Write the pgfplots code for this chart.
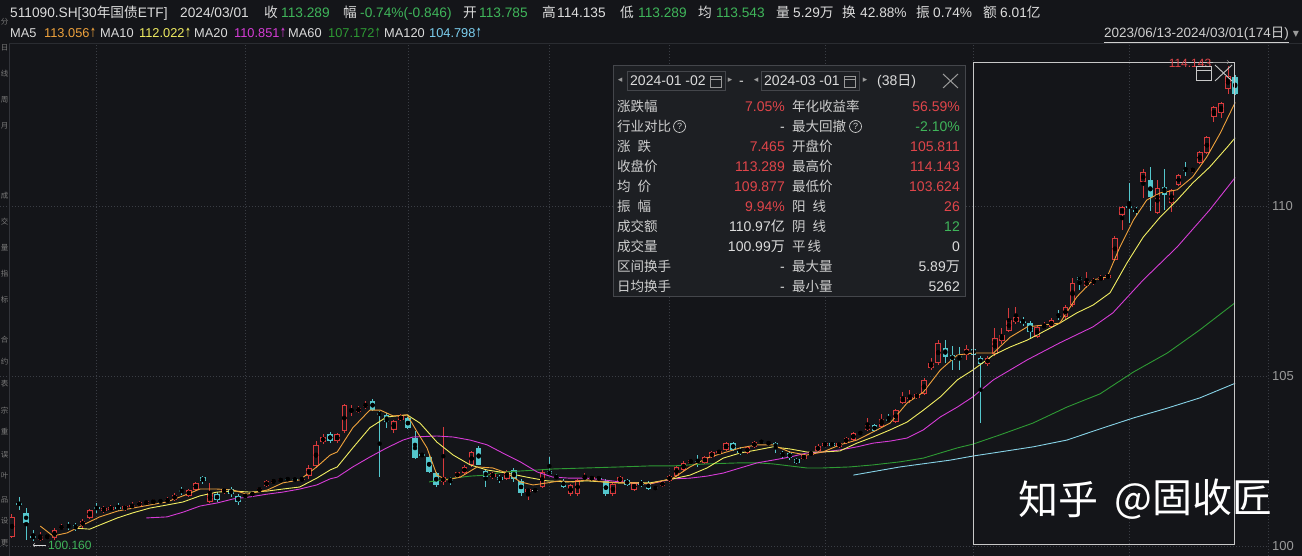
\documentclass[border=0pt]{standalone}
\usepackage{graphicx}
\usepackage{pgfplots}
\pgfplotsset{compat=1.18}
\usepackage{pgfplotstable}
\usepackage{fontspec}
\setmainfont{Liberation Sans}
\newfontfamily\cjk{Noto Sans CJK SC}
\newfontfamily\sym{DejaVu Sans}
\newcommand\fs[1]{\fontsize{#1}{#1}\selectfont}
\newcommand\upar{\hspace{0.5bp}\scalebox{0.55}[1]{\sym ↑}}

\definecolor{bg}{HTML}{141519}
\definecolor{gridc}{HTML}{3A3D44}
\definecolor{sepc}{HTML}{2A2C31}
\definecolor{sepv}{HTML}{32343A}
\definecolor{upc}{HTML}{D83A3C}
\definecolor{dnc}{HTML}{54C6CC}
\definecolor{flc}{HTML}{F0F0F0}
\definecolor{mafive}{HTML}{EFA23C}
\definecolor{maten}{HTML}{F2EE62}
\definecolor{matwenty}{HTML}{D63CD6}
\definecolor{masixty}{HTML}{2E9A34}
\definecolor{maonetwenty}{HTML}{86D2E6}
\definecolor{maonetwentyt}{HTML}{7CCFEF}
\definecolor{txtw}{HTML}{DCDCDC}
\definecolor{txtg}{HTML}{9A9A9A}
\definecolor{stripc}{HTML}{7A7A7A}
\definecolor{labc}{HTML}{CFCFCF}
\definecolor{grn}{HTML}{3FB55A}
\definecolor{redt}{HTML}{E0454A}
\definecolor{boxbg}{HTML}{1D1F23}
\definecolor{boxln}{HTML}{44464B}
\definecolor{selc}{HTML}{C8C8C8}

\pgfplotstableread{
i o h l c
0 100.29 100.95 100.25 100.88
4 100.20 100.42 100.17 100.30
5 100.25 100.38 100.22 100.31
6 100.25 100.55 100.20 100.49
7 100.52 100.65 100.48 100.60
10 100.62 100.80 100.55 100.75
11 100.84 101.10 100.80 101.07
13 101.05 101.20 101.00 101.12
14 101.08 101.22 101.03 101.15
16 101.10 101.22 101.05 101.18
17 101.15 101.30 101.10 101.22
18 101.20 101.35 101.15 101.30
19 101.25 101.38 101.20 101.33
20 101.28 101.40 101.25 101.34
22 101.30 101.45 101.27 101.40
23 101.37 101.56 101.33 101.52
25 101.49 101.70 101.45 101.66
26 101.66 101.90 101.62 101.87
28 101.31 101.87 101.28 101.57
30 101.60 101.72 101.55 101.69
33 101.45 101.56 101.42 101.52
34 101.50 101.62 101.47 101.58
35 101.62 101.76 101.60 101.72
36 101.78 101.95 101.75 101.92
37 101.87 102.00 101.85 101.95
38 101.92 102.02 101.90 101.98
41 101.95 102.04 101.92 102.00
42 102.07 102.40 102.00 102.31
43 102.37 103.10 102.30 102.99
44 103.06 103.30 103.00 103.23
46 103.10 103.33 103.05 103.31
47 103.40 104.20 103.35 104.16
48 103.98 104.15 103.85 104.03
49 103.96 104.13 103.93 104.07
50 104.10 104.27 104.05 104.20
54 103.43 103.72 103.35 103.69
55 103.72 103.90 103.68 103.84
61 101.90 103.51 101.80 102.04
63 102.04 102.20 102.00 102.19
64 102.16 102.40 102.10 102.34
65 102.40 102.80 102.35 102.78
68 102.05 102.18 102.00 102.15
70 102.00 102.26 101.97 102.22
73 101.60 101.70 101.37 101.68
75 101.75 102.25 101.72 102.20
79 101.54 101.85 101.50 101.81
80 101.54 102.00 101.50 101.96
81 102.00 102.15 101.95 102.06
82 101.98 102.08 101.95 102.04
85 101.54 101.88 101.50 101.84
86 101.90 102.08 101.88 102.04
88 101.66 101.90 101.62 101.87
92 101.78 101.93 101.75 101.90
93 101.93 102.10 101.90 102.08
94 102.07 102.38 102.05 102.35
95 102.25 102.50 102.20 102.46
96 102.46 102.57 102.43 102.54
98 102.46 102.66 102.43 102.63
99 102.63 102.80 102.60 102.77
100 102.75 102.85 102.72 102.81
101 102.84 103.07 102.80 103.04
104 102.75 102.96 102.72 102.93
105 102.93 103.10 102.90 103.07
107 103.01 103.10 102.98 103.07
112 102.57 102.72 102.54 102.69
113 102.69 102.82 102.66 102.78
114 102.81 103.00 102.78 102.96
115 102.96 103.08 102.93 103.04
117 102.94 103.08 102.91 103.05
118 103.05 103.22 103.02 103.19
119 103.13 103.37 103.10 103.34
121 103.43 103.78 103.40 103.57
123 103.51 103.90 103.48 103.75
125 103.66 104.04 103.63 104.01
126 104.22 104.54 104.18 104.40
127 104.35 104.60 104.22 104.40
128 104.37 104.52 104.34 104.49
129 104.49 104.95 104.46 104.90
130 105.25 105.55 105.20 105.40
131 105.40 106.07 105.35 105.99
135 105.63 105.93 105.49 105.82
138 105.37 105.60 105.30 105.55
139 105.66 106.43 105.60 106.13
140 106.04 106.43 105.95 106.22
141 106.34 107.01 106.30 106.66
142 106.60 107.04 106.55 106.75
145 106.16 106.50 106.12 106.45
146 106.45 106.60 106.40 106.50
147 106.45 106.72 106.42 106.66
149 106.75 107.10 106.70 107.04
150 107.10 107.90 107.05 107.75
152 107.66 108.07 107.60 107.81
153 107.75 107.90 107.70 107.84
154 107.84 107.98 107.80 107.93
155 107.90 108.03 107.86 107.99
156 108.43 109.12 108.40 109.07
157 109.75 110.01 109.31 109.99
160 110.72 111.10 110.25 111.01
162 109.81 110.78 109.78 110.54
164 110.10 110.52 109.84 110.48
165 110.63 110.96 110.60 110.93
167 111.05 111.14 111.00 111.10
168 111.28 111.63 111.24 111.60
169 111.57 112.07 111.53 112.04
170 112.63 112.96 112.49 112.93
171 112.75 113.07 112.60 113.04
172 113.45 114.14 113.30 113.85
}\upt

\pgfplotstableread{
i o h l c
1 101.27 101.45 101.07 101.23
2 100.99 101.13 100.19 100.70
3 100.30 100.49 100.16 100.25
8 100.62 100.72 100.48 100.58
9 100.63 100.68 100.45 100.55
12 101.15 101.27 101.00 101.11
15 101.15 101.28 101.05 101.12
21 101.34 101.40 101.27 101.30
24 101.65 101.75 101.52 101.61
27 102.04 102.08 101.85 101.93
29 101.54 101.60 101.30 101.37
31 101.69 101.75 101.45 101.55
32 101.50 101.55 101.22 101.30
39 102.00 102.04 101.93 101.96
40 102.00 102.03 101.90 101.95
45 103.31 103.36 103.05 103.10
51 104.28 104.35 103.98 104.02
52 103.93 104.00 102.05 103.87
53 103.87 103.93 103.50 103.66
56 103.78 103.80 103.45 103.49
57 103.19 103.40 102.58 102.60
58 102.72 102.75 102.62 102.68
59 102.63 102.70 102.15 102.19
60 102.16 102.20 101.75 101.81
62 101.98 102.05 101.80 101.95
66 102.90 102.95 102.40 102.40
67 102.22 102.25 101.75 102.04
69 102.04 102.10 101.88 101.95
71 102.26 102.30 101.90 102.00
72 101.94 102.00 101.50 101.57
76 102.22 102.63 102.10 102.12
77 102.06 102.12 101.98 102.02
78 101.93 101.98 101.72 101.75
83 102.02 102.08 101.95 101.99
84 101.93 101.98 101.48 101.54
87 101.96 102.00 101.78 101.81
89 101.90 101.95 101.75 101.80
90 101.87 101.92 101.65 101.70
97 102.53 102.70 102.34 102.49
102 103.04 103.07 102.82 102.84
103 102.81 102.92 102.70 102.77
106 103.09 103.12 103.04 103.07
108 103.05 103.08 102.75 102.90
109 102.75 102.80 102.60 102.68
110 102.76 102.80 102.55 102.60
111 102.57 102.60 102.43 102.46
116 103.04 103.07 102.94 102.97
120 103.35 103.40 103.28 103.31
122 103.57 103.60 103.37 103.40
124 103.75 103.90 103.66 103.70
132 105.84 106.07 105.40 105.57
133 105.63 105.90 105.19 105.49
134 105.59 105.87 105.19 105.55
136 105.81 105.90 105.58 105.63
137 105.55 105.60 103.62 105.37
143 106.63 106.75 106.50 106.60
144 106.57 106.62 106.13 106.31
148 106.80 106.95 106.65 106.76
151 107.93 107.97 107.54 107.84
158 110.02 110.69 109.51 109.97
159 109.90 110.00 109.75 109.86
161 110.78 111.15 109.87 110.28
163 110.57 111.10 109.90 110.34
166 111.10 111.30 110.90 111.05
173 113.80 113.87 113.29 113.30
}\dnt

\pgfplotstableread{
i o h l c
74 101.66 101.70 101.60 101.66
91 101.72 101.78 101.66 101.72
}\flt

\pgfplotsset{
  wick/.style={only marks, mark=none,
    error bars/y dir=both, error bars/y explicit, error bars/error mark=none,
    error bars/error bar style={draw=#1, line width=1bp, solid}},
  body/.style={only marks, mark=none,
    error bars/y dir=both, error bars/y explicit, error bars/error mark=none,
    error bars/error bar style={draw=#1, line width=5.5bp, solid}},
  hollow/.style={only marks, mark=none,
    error bars/y dir=both, error bars/y explicit, error bars/error mark=none,
    error bars/error bar style={draw=bg, line width=3.5bp, solid}},
}

\begin{document}
\begin{tikzpicture}[x=1bp,y=1bp]
\path[use as bounding box] (0,0) rectangle (1302,556);
\fill[bg] (0,0) rectangle (1302,556);

\begin{axis}[
  at={(0,0)}, anchor=south west,
  scale only axis, width=1268bp, height=512bp,
  xmin=-1.697, xmax=177.65, ymin=99.7206, ymax=114.7794,
  axis line style={draw=none},
  xtick={12,33,56,76,93,115,136,158}, xticklabels={},
  ytick={100,105,110}, yticklabel pos=right,
  /pgf/number format/assume math mode=true,
  yticklabel style={anchor=west, inner sep=0pt, xshift=4bp, text=txtg, font=\fs{13bp}},
  major tick length=0pt, tick style={draw=none},
  xmajorgrids, ymajorgrids,
  major grid style={draw=gridc, line width=0.8bp, dash pattern=on 1bp off 2bp},
]
% wicks
\addplot[wick=upc] table[x=i, y expr={(\thisrow{h}+\thisrow{l})/2}, y error expr={(\thisrow{h}-\thisrow{l})/2}] {\upt};
\addplot[wick=dnc] table[x=i, y expr={(\thisrow{h}+\thisrow{l})/2}, y error expr={(\thisrow{h}-\thisrow{l})/2}] {\dnt};
\addplot[wick=flc] table[x=i, y expr={(\thisrow{h}+\thisrow{l})/2}, y error expr={(\thisrow{h}-\thisrow{l})/2}] {\flt};
% bodies
\addplot[body=upc] table[x=i, y expr={(\thisrow{o}+\thisrow{c})/2}, y error expr={max(abs(\thisrow{c}-\thisrow{o})/2,0.016)}] {\upt};
\addplot[hollow] table[x=i, y expr={(\thisrow{o}+\thisrow{c})/2}, y error expr={max(abs(\thisrow{c}-\thisrow{o})/2-0.03,0)}] {\upt};
\addplot[body=dnc] table[x=i, y expr={(\thisrow{o}+\thisrow{c})/2}, y error expr={max(abs(\thisrow{c}-\thisrow{o})/2,0.016)}] {\dnt};
\addplot[body=flc] table[x=i, y expr={(\thisrow{o}+\thisrow{c})/2}, y error expr={max(abs(\thisrow{c}-\thisrow{o})/2,0.016)}] {\flt};

% moving averages
\addplot[maonetwenty, line width=0.9bp, mark=none] coordinates {(119,102.10)(125.6,102.34)(132.7,102.54)(135.9,102.66)(139.7,102.78)(144.4,102.93)(149.2,103.13)(153.9,103.46)(158.6,103.78)(163.4,104.07)(168,104.37)(173,104.80)};
\addplot[masixty, line width=0.9bp, mark=none] coordinates {(59,101.90)(62.4,102.01)(64.8,102.07)(67.2,102.10)(69.4,102.19)(71.9,102.22)(74.3,102.25)(76.5,102.28)(81.3,102.31)(86,102.34)(90.2,102.37)(93.5,102.37)(98.3,102.43)(103,102.46)(105.4,102.46)(107.6,102.43)(110,102.37)(112.4,102.31)(114.7,102.31)(118.5,102.34)(121.8,102.40)(125.6,102.49)(128.9,102.60)(131.3,102.75)(133.7,102.90)(135.9,103.01)(139.7,103.28)(144.4,103.63)(149.2,104.10)(153.9,104.49)(158.6,105.13)(163.4,105.69)(168,106.37)(173,107.17)};
\addplot[matwenty, line width=0.9bp, mark=none] coordinates {(19,100.84)(21.9,100.87)(24.2,101.01)(26.6,101.19)(29,101.28)(31.3,101.40)(33.7,101.46)(36.1,101.54)(38.3,101.60)(40.7,101.69)(43.1,101.81)(45,101.99)(46,102.04)(48.2,102.34)(50.6,102.63)(53,102.90)(55.3,103.13)(56.7,103.22)(60.1,103.25)(62.4,103.22)(64.8,103.13)(67.2,102.99)(69.4,102.75)(71.9,102.49)(74.3,102.19)(76.5,102.04)(78.9,102.01)(81.3,102.01)(83.6,101.96)(86,101.90)(90.2,101.84)(93.5,101.99)(95.9,102.01)(98.3,102.07)(100.6,102.16)(103,102.31)(105.4,102.46)(107.6,102.54)(110,102.63)(112.4,102.75)(114.7,102.78)(117.1,102.84)(119.5,102.93)(121.8,103.04)(124.2,103.10)(126.6,103.19)(128.9,103.43)(131.3,103.81)(133.7,104.10)(135.9,104.40)(138.8,104.90)(143.6,105.49)(148.2,105.99)(152.9,106.46)(155.7,106.87)(160,107.84)(164.8,108.81)(169.4,109.90)(173,110.85)};
\addplot[maten, line width=0.9bp, mark=none] coordinates {(9,100.54)(11,100.51)(12.4,100.63)(14.9,100.84)(17.1,100.99)(19.5,101.13)(21.9,101.22)(24.2,101.31)(26.6,101.49)(29,101.60)(31.3,101.63)(33.7,101.60)(36.1,101.63)(38.3,101.69)(40.7,101.75)(43.1,102.01)(45,102.25)(46,102.34)(48.2,102.90)(50.6,103.49)(53,103.81)(55.9,103.87)(57.7,103.63)(60.1,103.07)(62.4,102.69)(64.8,102.40)(67.2,102.25)(70,102.16)(72.8,102.04)(75.7,101.93)(78.5,101.90)(81.3,101.93)(83.6,101.90)(86,101.87)(90.2,101.87)(93.5,101.99)(95.9,102.10)(98.3,102.31)(100.6,102.60)(103,102.75)(105.4,102.84)(107.6,102.93)(110,102.87)(112.4,102.78)(114.7,102.78)(117.1,102.81)(119.5,103.04)(121.8,103.22)(124.2,103.43)(126.6,103.66)(128.9,104.01)(131.3,104.40)(133.7,104.90)(135.9,105.19)(138.8,105.63)(141.2,105.87)(143.6,106.07)(145.8,106.31)(148.2,106.57)(150.6,106.87)(152.9,107.10)(155.3,107.46)(157.7,108.34)(160,109.10)(162.4,109.69)(164.8,110.19)(167,110.69)(169.4,111.16)(171.9,111.75)(173,112.02)};
\addplot[mafive, line width=0.9bp, mark=none] coordinates {(4,100.60)(5.8,100.31)(7.8,100.40)(10,100.63)(12.4,100.87)(14.9,101.04)(17.1,101.13)(19.5,101.22)(21.9,101.31)(24.2,101.49)(26.6,101.69)(29,101.69)(31.3,101.66)(33.2,101.54)(36.1,101.66)(38.3,101.87)(40.7,101.96)(43.1,102.34)(45,102.69)(46,102.78)(48.2,103.49)(50.6,104.01)(52.1,104.01)(53.9,103.84)(55.9,103.87)(57.3,103.37)(58.7,102.90)(60.1,102.10)(61.5,101.96)(63.4,102.04)(65.8,102.34)(68,102.31)(70,102.16)(71.9,101.90)(73.7,101.81)(75.7,101.87)(77.5,101.93)(79.4,101.90)(81.3,101.96)(83.6,101.90)(86,101.87)(88.4,101.87)(90.2,101.84)(93.5,102.01)(95.9,102.34)(98.3,102.60)(100.6,102.75)(103,102.90)(105.4,102.99)(107.6,102.99)(110,102.78)(112.4,102.69)(114.7,102.78)(117.1,102.99)(119.5,103.13)(121.8,103.37)(124.2,103.63)(126.6,104.22)(128.9,104.54)(131.3,105.19)(133.7,105.63)(135.9,105.69)(138.8,105.69)(141.2,106.16)(143.6,106.46)(145.8,106.51)(148.2,106.57)(150.6,107.34)(152.9,107.84)(154.9,107.93)(156.7,108.81)(158.6,109.60)(160.5,110.19)(162.4,110.40)(164.8,110.49)(167,110.87)(169,111.46)(170.9,112.16)(173,113.06)};
\end{axis}

% right boundary and header separator
\draw[gridc, line width=0.8bp, dash pattern=on 1bp off 2bp] (1268,0) -- (1268,512);
\draw[sepc, line width=0.8bp] (9,513) -- (1302,513);
\draw[sepv, line width=0.8bp] (9,0) -- (9,512);

% left strip (small vertical toolbar labels)
\foreach \yy/\ch in {22/分,48/日,74/线,100/周,126/月,196/成,222/交,248/量,274/指,300/标,340/合,362/约,384/表,411/宗,432/重,455/误,476/叶,500/品,521/设,543/更}{
  \node[text=stripc, font=\cjk\fs{7.5bp}, inner sep=0pt] at (4.5,556-\yy) {\ch};
}

% selection box
\draw[selc, line width=1bp] (973,493.3) rectangle (1234.5,11);
\node[text=redt, font=\fs{12bp}, inner sep=0pt] at (1190,493) {114.143};
\draw[txtg, line width=0.6bp, ->] (1213,494) -- (1229,494);
\draw[selc, line width=0.9bp] (1196,490) rectangle (1211,476);
\draw[selc, line width=0.9bp] (1196,486) -- (1211,486);
\draw[selc, line width=0.9bp] (1215,491) -- (1232,475);
\draw[selc, line width=0.9bp] (1215,475) -- (1232,491);

% min label
\draw[txtw, line width=0.6bp, ->] (46,11) -- (33,11);
\node[anchor=west, text=grn, font=\fs{12bp}, inner sep=0pt] at (48,11) {100.160};

% watermark
\node[anchor=west, text=white, font=\cjk\fs{40bp}, inner sep=0pt] at (1018,57) {知乎};
\node[anchor=west, text=white, font=\cjk\fs{40bp}, inner sep=0pt] at (1114,57) {@固收匠};

% header row 1
\tikzset{hd/.style={anchor=base west, inner sep=0pt, text=txtw, font=\fs{13.7bp}}}
\node[hd] at (10,538.5) {511090.SH[30{\cjk 年国债}ETF]};
\node[hd] at (180,538.5) {2024/03/01};
\node[hd] at (264,538.5) {\cjk 收}; \node[hd,text=grn] at (281,538.5) {113.289};
\node[hd] at (343,538.5) {\cjk 幅}; \node[hd,text=grn] at (360,538.5) {-0.74\%(-0.846)};
\node[hd] at (463,538.5) {\cjk 开}; \node[hd,text=grn] at (479,538.5) {113.785};
\node[hd] at (542,538.5) {\cjk 高}; \node[hd] at (557,538.5) {114.135};
\node[hd] at (620,538.5) {\cjk 低}; \node[hd,text=grn] at (638,538.5) {113.289};
\node[hd] at (698,538.5) {\cjk 均}; \node[hd,text=grn] at (716,538.5) {113.543};
\node[hd] at (776,538.5) {\cjk 量}; \node[hd] at (793,538.5) {5.29{\cjk 万}};
\node[hd] at (842,538.5) {\cjk 换}; \node[hd] at (860,538.5) {42.88\%};
\node[hd] at (916,538.5) {\cjk 振}; \node[hd] at (933,538.5) {0.74\%};
\node[hd] at (983,538.5) {\cjk 额}; \node[hd] at (1000,538.5) {6.01{\cjk 亿}};

% header row 2
\tikzset{hm/.style={anchor=base west, inner sep=0pt, text=txtw, font=\fs{12.8bp}}}
\node[hm] at (10,518) {MA5}; \node[hm,text=mafive] at (44,518) {113.056\upar};
\node[hm] at (100,518) {MA10}; \node[hm,text=maten] at (139,518) {112.022\upar};
\node[hm] at (194,518) {MA20}; \node[hm,text=matwenty] at (234,518) {110.851\upar};
\node[hm] at (288,518) {MA60}; \node[hm,text=masixty] at (328,518) {107.172\upar};
\node[hm] at (384,518) {MA120}; \node[hm,text=maonetwentyt] at (429,518) {104.798\upar};
\node[anchor=base east, inner sep=0pt, text=labc, font=\fs{13.5bp}] at (1289,518) {\underline{2023/06/13-2024/03/01(174{\cjk 日})}};
\node[text=txtg, font=\sym\fs{8bp}, inner sep=0pt] at (1296,522) {▼};

% info box
\fill[boxbg] (613,490) rectangle (965,259);
\draw[boxln, line width=1bp] (613,490) rectangle (965,259);
\tikzset{ar/.style={text=txtg, font=\sym\fs{9bp}, inner sep=0pt},
  tt/.style={anchor=base west, inner sep=0pt, text=txtw, font=\fs{14bp}}}
\node[ar] at (620,475.5) {◂};
\draw[boxln, line width=0.9bp] (627,485) rectangle (725,466);
\node[tt] at (630,470) {2024-01 -02};
\draw[txtg, line width=0.7bp] (710,480) rectangle (721,469);
\draw[txtg, line width=0.7bp] (710,476.5) -- (721,476.5);
\node[ar] at (730,475.5) {▸};
\node[tt] at (739,470) {-};
\node[ar] at (756,475.5) {◂};
\draw[boxln, line width=0.9bp] (761,485) rectangle (859,466);
\node[tt] at (764,470) {2024-03 -01};
\draw[txtg, line width=0.7bp] (844,480) rectangle (855,469);
\draw[txtg, line width=0.7bp] (844,476.5) -- (855,476.5);
\node[ar] at (865,475.5) {▸};
\node[tt] at (877,470) {(38{\cjk 日})};
\draw[txtg, line width=1bp] (943,482) -- (958,468);
\draw[txtg, line width=1bp] (943,468) -- (958,482);

\tikzset{lab/.style={anchor=base west, inner sep=0pt, text=labc, font=\cjk\fs{13.5bp}},
  val/.style={anchor=base east, inner sep=0pt, text=txtw, font=\fs{14bp}}}
\newcommand\inforow[5]{%
  \node[lab] at (617,{444.5-20*#1}) {#2};
  \node[val] at (785,{444.5-20*#1}) {#3};
  \node[lab] at (792,{444.5-20*#1}) {#4};
  \node[val] at (960,{444.5-20*#1}) {#5};}
\inforow{0}{涨跌幅}{\textcolor{redt}{7.05\%}}{年化收益率}{\textcolor{redt}{56.59\%}}
\inforow{1}{行业对比}{-}{最大回撤}{\textcolor{grn}{-2.10\%}}
\inforow{2}{涨\hspace{7bp}跌}{\textcolor{redt}{7.465}}{开盘价}{\textcolor{redt}{105.811}}
\inforow{3}{收盘价}{\textcolor{redt}{113.289}}{最高价}{\textcolor{redt}{114.143}}
\inforow{4}{均\hspace{7bp}价}{\textcolor{redt}{109.877}}{最低价}{\textcolor{redt}{103.624}}
\inforow{5}{振\hspace{7bp}幅}{\textcolor{redt}{9.94\%}}{阳\hspace{7bp}线}{\textcolor{redt}{26}}
\inforow{6}{成交额}{110.97{\cjk 亿}}{阴\hspace{7bp}线}{\textcolor{grn}{12}}
\inforow{7}{成交量}{100.99{\cjk 万}}{平\hspace{2bp}线}{0}
\inforow{8}{区间换手}{-}{最大量}{5.89{\cjk 万}}
\inforow{9}{日均换手}{-}{最小量}{5262}
\draw[labc, line width=0.7bp] (679.5,429.5) circle (6);
\node[text=labc, font=\fs{9bp}, inner sep=0pt] at (679.5,429.5) {?};
\draw[labc, line width=0.7bp] (855.5,429.5) circle (6);
\node[text=labc, font=\fs{9bp}, inner sep=0pt] at (855.5,429.5) {?};
\end{tikzpicture}
\end{document}
